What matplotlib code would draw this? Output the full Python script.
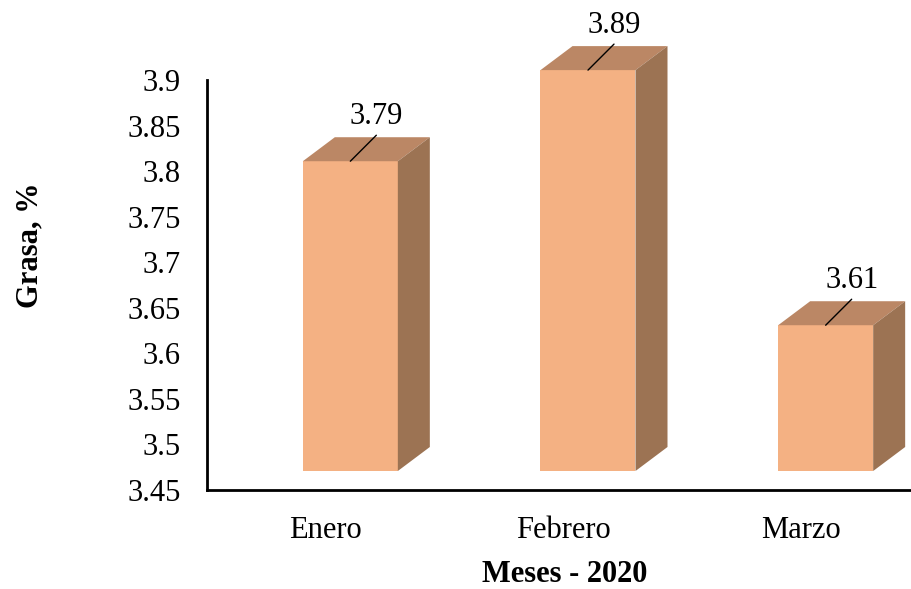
import matplotlib.pyplot as plt
from matplotlib.patches import Polygon

plt.rcParams['font.family'] = ['Liberation Serif', 'DejaVu Serif']

# data
meses = ["Enero", "Febrero", "Marzo"]
grasa = [3.79, 3.89, 3.61]
y_ticks = [3.45, 3.5, 3.55, 3.6, 3.65, 3.7, 3.75, 3.8, 3.85, 3.9]

# colours of the 3D columns
FRONT = "#F4B183"
TOP = "#BB8765"
SIDE = "#9C7353"

Y_MIN, Y_MAX = 3.45, 3.9

fig = plt.figure(figsize=(9.12, 5.89), dpi=100)
ax = fig.add_axes([207 / 912, 99 / 589, 713 / 912, 410 / 589])
ax.set_xlim(-0.5, 2.5)
ax.set_ylim(Y_MIN, Y_MAX)

# pixel -> data scale, used to fake the 3D column look
px_x = 3.0 / 713
px_y = (Y_MAX - Y_MIN) / 410

bar_w = 95 * px_x
shift_x, shift_y = 24.5 * px_x, 19 * px_y     # columns sit back from the axis
depth_x, depth_y = 32 * px_x, 24 * px_y       # depth of the columns

for i, v in enumerate(grasa):
    x0 = i + shift_x - bar_w / 2
    x1 = x0 + bar_w
    y0 = Y_MIN + shift_y
    y1 = v + shift_y
    front = Polygon([(x0, y0), (x1, y0), (x1, y1), (x0, y1)],
                    closed=True, facecolor=FRONT, edgecolor='none', clip_on=False, zorder=3)
    top = Polygon([(x0, y1), (x1, y1), (x1 + depth_x, y1 + depth_y), (x0 + depth_x, y1 + depth_y)],
                  closed=True, facecolor=TOP, edgecolor='none', clip_on=False, zorder=3)
    side = Polygon([(x1, y0), (x1 + depth_x, y0 + depth_y), (x1 + depth_x, y1 + depth_y), (x1, y1)],
                   closed=True, facecolor=SIDE, edgecolor='none', clip_on=False, zorder=3)
    for p in (front, top, side):
        ax.add_patch(p)

    # value label with leader line
    xc = i + shift_x
    ax.annotate('', xy=(xc, y1), xytext=(26 * 0.72, 26 * 0.72), textcoords='offset points',
                arrowprops=dict(arrowstyle='-', lw=1, color='black', shrinkA=0, shrinkB=0),
                annotation_clip=False, zorder=4)
    ax.annotate(f'{v:.2f}', xy=(xc, y1), xytext=(26 * 0.72, 45 * 0.72), textcoords='offset points',
                ha='center', va='center', fontsize=22, annotation_clip=False, zorder=4)

ax.set_xticks(range(len(meses)))
ax.set_xticklabels(meses)
ax.set_yticks(y_ticks)
ax.set_yticklabels([f'{t:g}' for t in y_ticks])
ax.tick_params(axis='both', length=0, labelsize=22)
ax.tick_params(axis='y', pad=19)
ax.tick_params(axis='x', pad=19)

for s in ('top', 'right'):
    ax.spines[s].set_visible(False)
for s in ('left', 'bottom'):
    ax.spines[s].set_linewidth(2)

fig.text(30 / 912, 1 - 245 / 589, 'Grasa, %', rotation=90, ha='center', va='center',
         fontsize=22, fontweight='bold')
fig.text(565 / 912, 1 - 574 / 589, 'Meses - 2020', ha='center', va='center',
         fontsize=22, fontweight='bold')

fig.savefig('out.png', dpi=100)
